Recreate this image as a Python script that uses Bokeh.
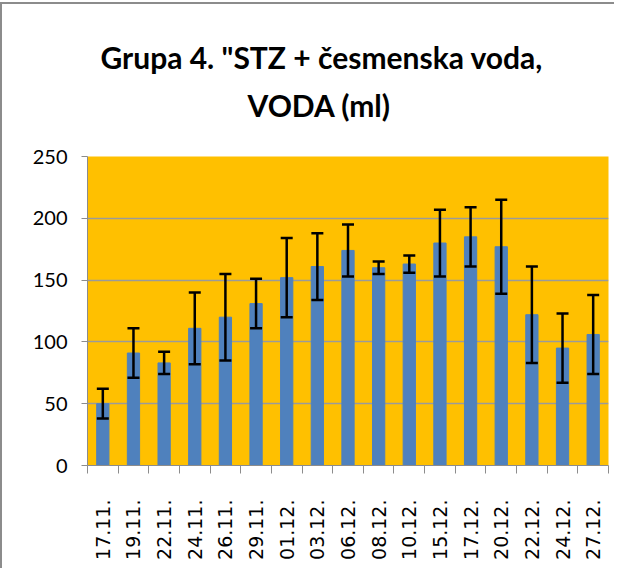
from bokeh.plotting import figure
from bokeh.models import ColumnDataSource, Whisker, TeeHead, FixedTicker, Range1d, Title
from bokeh.embed import file_html
from bokeh.resources import INLINE
import math

dates = ["17.11.", "19.11.", "22.11.", "24.11.", "26.11.", "29.11.", "01.12.", "03.12.",
         "06.12.", "08.12.", "10.12.", "15.12.", "17.12.", "20.12.", "22.12.", "24.12.", "27.12."]
voda = [50, 91, 83, 111, 120, 131, 152, 161, 174, 160, 163, 180, 185, 177, 122, 95, 106]
err = [12, 20, 9, 29, 35, 20, 32, 27, 21, 5, 7, 27, 24, 38, 39, 28, 32]
y_ticks = [0, 50, 100, 150, 200, 250]

xs = [i + 0.5 for i in range(len(dates))]
src = ColumnDataSource(dict(
    x=xs, top=voda,
    upper=[v + e for v, e in zip(voda, err)],
    lower=[v - e for v, e in zip(voda, err)],
))

p = figure(width=614, height=566, output_backend="svg", toolbar_location=None,
           x_range=Range1d(0, len(dates)), y_range=Range1d(0, 250),
           min_border_left=85, min_border_right=8, min_border_top=152, min_border_bottom=105,
           background_fill_color="#FFC000", border_fill_color="white")
p.outline_line_color = None

p.vbar(x="x", top="top", width=0.4, bottom=0, source=src, color="#4F81BD")

w = Whisker(base="x", upper="upper", lower="lower", source=src, level="overlay",
            line_color="black", line_width=2.5,
            upper_head=TeeHead(size=12, line_color="black", line_width=2.5),
            lower_head=TeeHead(size=12, line_color="black", line_width=2.5))
p.add_layout(w)

# y axis
p.yaxis.ticker = FixedTicker(ticks=y_ticks)
p.yaxis.axis_line_color = "#8c8c8c"
p.yaxis.major_tick_line_color = "#8c8c8c"
p.yaxis.major_tick_out = 6
p.yaxis.major_tick_in = 0
p.yaxis.minor_tick_line_color = None
p.yaxis.major_label_standoff = 14
p.yaxis.major_label_text_font = "Lato"
p.yaxis.major_label_text_font_size = "20px"
p.yaxis.major_label_text_color = "black"

# x axis
p.xaxis.ticker = FixedTicker(ticks=xs, minor_ticks=list(range(len(dates) + 1)))
p.xaxis.major_label_overrides = {x: d for x, d in zip(xs, dates)}
p.xaxis.major_label_orientation = math.pi / 2
p.xaxis.axis_line_color = "#8c8c8c"
p.xaxis.major_tick_line_color = None
p.xaxis.major_tick_out = 0
p.xaxis.major_tick_in = 0
p.xaxis.minor_tick_line_color = "#8c8c8c"
p.xaxis.minor_tick_out = 8
p.xaxis.minor_tick_in = 0
p.xaxis.major_label_standoff = 26
p.xaxis.major_label_text_font = "DejaVu Sans"
p.xaxis.major_label_text_font_size = "19px"
p.xaxis.major_label_text_color = "black"

p.xgrid.grid_line_color = None
p.ygrid.ticker = FixedTicker(ticks=y_ticks)
p.ygrid.grid_line_color = "#9a9a9a"
p.ygrid.grid_line_width = 1.5

spacer = Title(text=" ", text_font_size="15px")
t2 = Title(text="VODA (ml)", align="left", offset=160,
           text_font="Lato", text_font_size="30px", text_font_style="bold", text_color="black")
t1 = Title(text="Grupa 4. \"STZ + česmenska voda,", align="left", offset=13,
           text_font="Lato", text_font_size="30px", text_font_style="bold", text_color="black")
p.add_layout(spacer, "above")
p.add_layout(t2, "above")
p.add_layout(t1, "above")

p.styles = {"border-left": "2px solid #8c8c8c", "border-top": "2px solid #8c8c8c", "margin-top": "2px"}

open("out.html", "w").write(file_html(p, INLINE))
